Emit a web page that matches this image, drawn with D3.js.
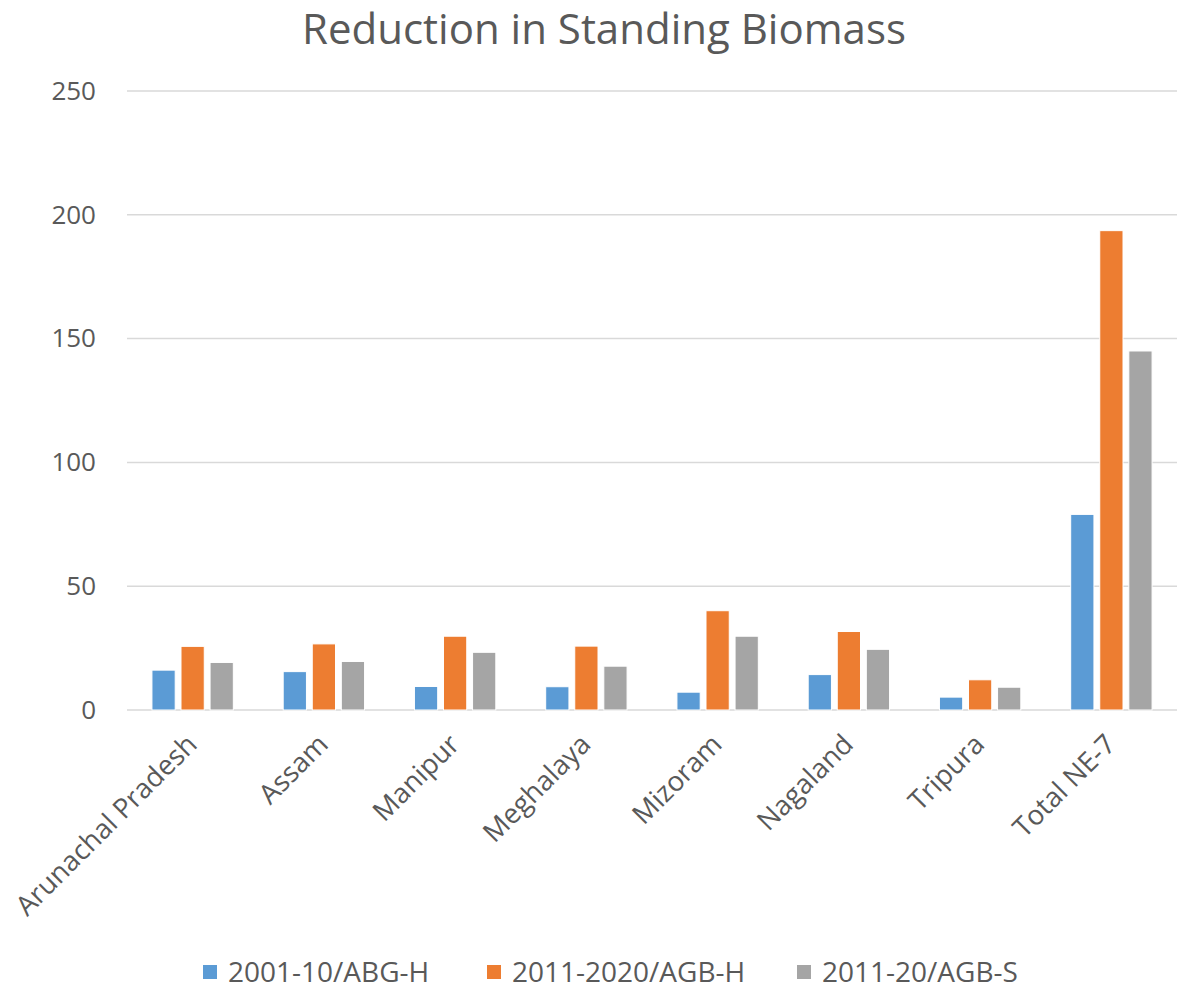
<!DOCTYPE html>
<html>
<head>
<meta charset="utf-8">
<script src="https://cdn.jsdelivr.net/npm/d3@7"></script>
<style>
  html, body { margin: 0; padding: 0; background: #fff; }
  svg { display: block; font-family: "Open Sans", "Noto Sans", sans-serif; }
</style>
</head>
<body>
<svg id="chart" width="1188" height="989"></svg>
<script>
// Reduction in standing biomass by state (NE India)
const categories = ["Arunachal Pradesh", "Assam", "Manipur", "Meghalaya", "Mizoram", "Nagaland", "Tripura", "Total NE-7"];
const seriesNames = ["2001-10/ABG-H", "2011-2020/AGB-H", "2011-20/AGB-S"];
const abgH2001 = [16.1, 15.5, 9.5, 9.4, 7.2, 14.3, 5.2, 79.0];
const agbH2011 = [25.7, 26.7, 29.8, 25.8, 40.1, 31.7, 12.2, 193.6];
const agbS2011 = [19.2, 19.6, 23.3, 17.7, 29.8, 24.5, 9.2, 145.0];
const yTicks = [0, 50, 100, 150, 200, 250];
const colors = ["#5B9BD5", "#ED7D31", "#A5A5A5"];

const series = [abgH2001, agbH2011, agbS2011];

const svg = d3.select("#chart");
const margin = { left: 127, right: 11, top: 91, bottom: 279 };
const W = 1188, H = 989;
const plotW = W - margin.left - margin.right;
const plotH = H - margin.top - margin.bottom;

const g = svg.append("g").attr("transform", `translate(${margin.left},${margin.top})`);

const x0 = d3.scaleBand().domain(categories).range([0, plotW]).paddingInner(0).paddingOuter(0);
const x1 = d3.scaleBand().domain(d3.range(series.length))
  .range([x0.bandwidth() * 0.19, x0.bandwidth() * 0.81])
  .paddingInner(0.2).paddingOuter(0);
const y = d3.scaleLinear().domain([0, 250]).range([plotH, 0]);

// Title
svg.append("text")
  .attr("x", W / 2 + 10).attr("y", 44)
  .attr("text-anchor", "middle")
  .attr("font-size", 42)
  .attr("fill", "#595959")
  .text("Reduction in Standing Biomass");

// Gridlines
g.append("g").selectAll("line").data(yTicks).join("line")
  .attr("x1", 0).attr("x2", plotW)
  .attr("y1", d => y(d)).attr("y2", d => y(d))
  .attr("stroke", "#D9D9D9").attr("stroke-width", 1.5);

// Y axis labels
const yAxis = d3.axisLeft(y).tickValues(yTicks).tickSize(0).tickPadding(31);
const ya = g.append("g").call(yAxis);
ya.select(".domain").remove();
ya.selectAll("text").attr("font-size", 26).attr("fill", "#595959").attr("font-family", "Open Sans, sans-serif");

// Bars
const groups = g.append("g").selectAll("g").data(categories).join("g")
  .attr("transform", d => `translate(${x0(d)},0)`);
groups.selectAll("rect")
  .data((c, i) => series.map((s, k) => ({ k, v: s[i] })))
  .join("rect")
  .attr("x", d => x1(d.k))
  .attr("width", x1.bandwidth())
  .attr("y", d => y(d.v))
  .attr("height", d => y(0) - y(d.v))
  .attr("fill", d => colors[d.k])
  .attr("stroke", "#fff").attr("stroke-width", 1);

// Category labels, rotated
g.append("g").selectAll("text").data(categories).join("text")
  .attr("transform", d => `translate(${x0(d) + x0.bandwidth() / 2 + 6},${plotH + 36}) rotate(-45)`)
  .attr("text-anchor", "end")
  .attr("font-size", 27.5)
  .attr("fill", "#595959")
  .text(d => d);

// Legend
const legendX = [203, 487, 797];
const legend = svg.append("g").selectAll("g").data(seriesNames).join("g")
  .attr("transform", (d, i) => `translate(${legendX[i]},965)`);
legend.append("rect").attr("width", 14).attr("height", 14).attr("fill", (d, i) => colors[i]);
legend.append("text").attr("x", 25).attr("y", 17).attr("font-size", 28).attr("fill", "#595959").text(d => d);
</script>
</body>
</html>
